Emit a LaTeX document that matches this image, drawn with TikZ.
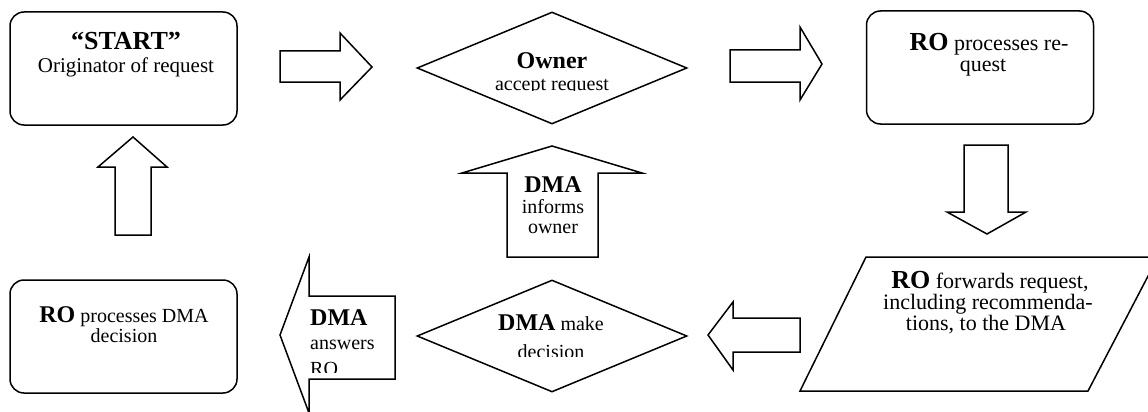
\documentclass[tikz,border=0pt]{standalone}
\usepackage{fontspec}
\setmainfont{Liberation Serif}
\usetikzlibrary{shapes.geometric}
\newcommand\hdtxt[1]{{\fontsize{24}{24}\selectfont\bfseries #1}}
\newcommand\hdtxtL[1]{{\fontsize{26}{26}\selectfont\bfseries #1}}
\begin{document}
\begin{tikzpicture}[x=1pt,y=-1pt,
  outline/.style={draw=black, line width=1.5pt, line join=miter},
  box/.style={outline, rounded corners=14pt, minimum width=227pt, minimum height=113pt, inner sep=0pt},
  dia/.style={outline, diamond, minimum width=270pt, minimum height=112pt, inner sep=0pt},
  barrow/.style={outline, fill=white},
  ln/.style={anchor=base, inner sep=0pt, font=\fontsize{20}{22}\selectfont},
  lnm/.style={ln, font=\fontsize{21}{23}\selectfont},
  lnb/.style={ln, font=\fontsize{22}{24}\selectfont},
  lnl/.style={ln, anchor=base west}]
\useasboundingbox (0,0) rectangle (1148,412);
\clip (0,0) rectangle (1148,412);
% boxes
\node[box] (start) at (123.5,68.5) {};
\node[box] (roreq) at (980,67.5) {};
\node[box] (rodma) at (123.5,336.5) {};
\node[dia] (owner) at (552,68) {};
\node[dia] (decide) at (552,336) {};
\draw[outline] (866,257) -- (1158,257) -- (1088,391) -- (800,391) -- cycle;
\coordinate (fwd) at (979,324);
% block arrows
\draw[barrow] (280,51) -- (340,51) -- (340,33) -- (372,67) -- (340,100) -- (340,82) -- (280,82) -- cycle;
\draw[barrow] (730,50) -- (800,50) -- (800,27) -- (822,64) -- (800,100) -- (800,82) -- (730,82) -- cycle;
\draw[barrow] (964,145) -- (1008,145) -- (1008,212) -- (1026,212) -- (987,234) -- (947,212) -- (964,212) -- cycle;
\draw[barrow] (800,318) -- (733,318) -- (733,302) -- (708,335) -- (733,370) -- (733,352) -- (800,352) -- cycle;
\draw[barrow] (395,296) -- (309,296) -- (309,257) -- (280,335) -- (309,413) -- (309,379) -- (395,379) -- cycle;
\draw[barrow] (507,257) -- (507,173) -- (462,173) -- (552,146) -- (642,173) -- (598,173) -- (598,257) -- cycle;
\draw[barrow] (115,235) -- (115,167) -- (98,167) -- (133,137) -- (167,167) -- (151,167) -- (151,235) -- cycle;
% texts
\node[lnm] (startA) at (126,50) {\hdtxtL{“START”}};
\node[lnm] (startB) at (126,72) {Originator of request};
\node[ln] (ownerA) at (552,68) {\hdtxt{Owner}};
\begin{scope}
\clip (400,70) rectangle (700,90.3);
\node[ln] (ownerB) at (552,90) {accept request};
\end{scope}
\node[lnb] (roreqA) at (989,51) {\hdtxtL{RO} processes re-};
\node[lnb] (roreqB) at (983,71) {quest};
\node[lnb] (fwdA) at (990,288) {\hdtxtL{RO} forwards request,};
\node[lnb] (fwdB) at (988,309) {including recommenda-};
\node[lnb] (fwdC) at (986,330) {tions, to the DMA};
\node[ln] (decideA) at (551,330) {\hdtxt{DMA} make};
\begin{scope}
\clip (400,333) rectangle (700,356);
\node[ln] (decideB) at (551,358) {decision};
\end{scope}
\node[ln] (infA) at (553,192) {\hdtxt{DMA}};
\node[ln] (infB) at (553,213) {informs};
\node[ln] (infC) at (553,233) {owner};
\node[lnl] (ansA) at (310,325) {\hdtxt{DMA}};
\node[lnl] (ansB) at (310,349) {answers};
\begin{scope}
\clip (300,352) rectangle (400,372);
\node[lnl] (ansC) at (310,375) {RO};
\end{scope}
\node[ln] (rodmaA) at (124,322) {\hdtxt{RO} processes DMA};
\node[ln] (rodmaB) at (124,342) {decision};
\end{tikzpicture}
\end{document}
